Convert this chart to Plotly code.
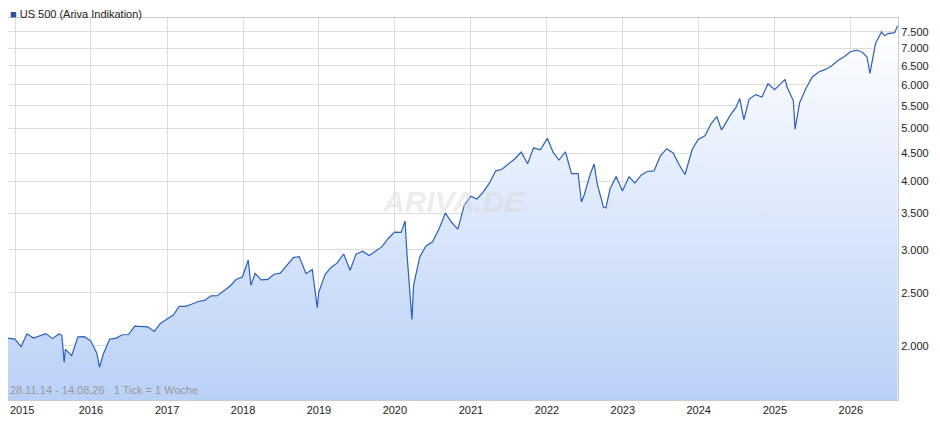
import plotly.graph_objects as go

dates = ["2014-11-28","2014-12-31",
"2015-01-30","2015-02-27","2015-03-31","2015-04-30","2015-05-29","2015-06-30","2015-07-31","2015-08-14","2015-08-25","2015-08-31","2015-09-30","2015-10-30","2015-11-30","2015-12-31",
"2016-01-29","2016-02-11","2016-02-29","2016-03-31","2016-04-29","2016-05-31","2016-06-30","2016-07-29","2016-08-31","2016-09-30","2016-10-31","2016-11-30","2016-12-30",
"2017-01-31","2017-02-28","2017-03-31","2017-04-28","2017-05-31","2017-06-30","2017-07-31","2017-08-31","2017-09-29","2017-10-31","2017-11-30","2017-12-29",
"2018-01-26","2018-02-08","2018-02-28","2018-03-29","2018-04-30","2018-05-31","2018-06-29","2018-07-31","2018-08-31","2018-09-28","2018-10-31","2018-11-30","2018-12-24","2018-12-31",
"2019-01-31","2019-02-28","2019-03-29","2019-04-30","2019-05-31","2019-06-28","2019-07-31","2019-08-30","2019-09-30","2019-10-31","2019-11-29","2019-12-31",
"2020-01-31","2020-02-19","2020-02-28","2020-03-23","2020-03-31","2020-04-30","2020-05-29","2020-06-30","2020-07-31","2020-08-31","2020-09-30","2020-10-30","2020-11-30","2020-12-31",
"2021-01-29","2021-02-26","2021-03-31","2021-04-30","2021-05-28","2021-06-30","2021-07-30","2021-08-31","2021-09-30","2021-10-29","2021-11-30","2021-12-31",
"2022-01-03","2022-01-31","2022-02-28","2022-03-31","2022-04-29","2022-05-31","2022-06-16","2022-06-30","2022-07-29","2022-08-16","2022-08-31","2022-09-30","2022-10-12","2022-10-31","2022-11-30","2022-12-30",
"2023-01-31","2023-02-28","2023-03-31","2023-04-28","2023-05-31","2023-06-30","2023-07-31","2023-08-31","2023-09-29","2023-10-27","2023-11-30","2023-12-29",
"2024-01-31","2024-02-29","2024-03-28","2024-04-19","2024-04-30","2024-05-31","2024-06-28","2024-07-16","2024-08-05","2024-08-30","2024-09-30","2024-10-31","2024-11-29","2024-12-31",
"2025-01-31","2025-02-19","2025-02-28","2025-03-31","2025-04-08","2025-04-30","2025-05-30","2025-06-30","2025-07-31","2025-08-29","2025-09-30","2025-10-31","2025-11-28","2025-12-31",
"2026-01-30","2026-02-27","2026-03-20","2026-04-03","2026-04-30","2026-05-29","2026-06-12","2026-06-30","2026-07-31","2026-08-14"]
values = [2068,2059,
1995,2105,2068,2086,2107,2063,2104,2092,1868,1972,1920,2079,2080,2044,
1940,1829,1932,2060,2065,2097,2099,2174,2171,2168,2126,2199,2239,
2279,2364,2363,2384,2412,2423,2470,2472,2519,2575,2648,2674,
2873,2581,2714,2641,2648,2705,2718,2816,2902,2914,2712,2760,2351,2507,
2704,2784,2834,2946,2752,2942,2980,2926,2977,3038,3141,3231,
3226,3386,2954,2237,2585,2912,3044,3100,3271,3500,3363,3270,3622,3756,
3714,3811,3973,4181,4204,4298,4395,4523,4308,4605,4567,4766,
4797,4516,4374,4530,4132,4132,3667,3785,4130,4305,3955,3586,3577,3872,4080,3840,
4077,3970,4109,4169,4180,4450,4589,4508,4288,4117,4568,4770,
4846,5096,5254,4967,5036,5278,5460,5667,5186,5648,5762,5705,6032,5882,
6041,6144,5955,5612,4982,5569,5912,6205,6339,6400,6500,6650,6750,6900,
6950,6880,6750,6300,7150,7500,7380,7450,7480,7700]

years = list(range(2015, 2027))
ytick_vals = [2000, 2500, 3000, 3500, 4000, 4500, 5000, 5500, 6000, 6500, 7000, 7500]

fig = go.Figure()
fig.add_trace(go.Scatter(x=[dates[0], dates[-1]], y=[1500, 1500], mode="lines",
                         line=dict(width=0), hoverinfo="skip", showlegend=False))
fig.add_trace(go.Scatter(x=dates, y=values, mode="lines", fill="tonexty",
                         line=dict(color="#2a5fc4", width=1.2),
                         fillgradient=dict(type="vertical",
                                           colorscale=[[0, "#b7cff6"], [1, "#ffffff"]]),
                         showlegend=False))

fig.update_layout(
    width=930, height=419, margin=dict(l=0, r=40, t=10, b=27),
    paper_bgcolor="white", plot_bgcolor="white",
    font=dict(family="Liberation Sans, Arial", size=11, color="#222"),
    separators=",.",
    xaxis=dict(range=["2014-11-28", "2026-08-16"], showgrid=True, gridcolor="#dddddd",
               tickvals=[f"{y}-01-01" for y in years],
               ticktext=["" if y == years[0] else str(y) for y in years],
               showline=True, linecolor="#cccccc", mirror=True, ticks="", zeroline=False),
    yaxis=dict(type="log", side="right", range=[3.2023, 3.9006], showgrid=True, gridcolor="#dddddd",
               tickvals=ytick_vals,
               tickformat=",d", showline=True, linecolor="#cccccc", mirror=True, ticks="", zeroline=False),
    annotations=[
        dict(xref="paper", yref="paper", x=0.5, y=0.52, text="<b><i>ARIVA.DE</i></b>", showarrow=False,
             font=dict(size=30, color="rgba(215,215,215,0.45)")),
        dict(xref="paper", yref="paper", x=0.0, y=0.005, xanchor="left", yanchor="bottom",
             text="28.11.14 - 14.08.26&nbsp;&nbsp;&nbsp;1 Tick = 1 Woche", showarrow=False,
             font=dict(size=11, color="#999999")),
        dict(xref="paper", yref="paper", x=0.0, y=1.0, xanchor="left", yanchor="bottom", yshift=-4,
             text="<span style='color:#1f4fa8'>■</span> US 500 (Ariva Indikation)", showarrow=False,
             font=dict(size=11, color="#222")),
        dict(xref="paper", yref="paper", x=0.0, y=0.0, xanchor="left", yanchor="top", yshift=-2,
             text=str(years[0]), showarrow=False, font=dict(size=11, color="#222")),
    ],
)
fig.write_html("out.html")
